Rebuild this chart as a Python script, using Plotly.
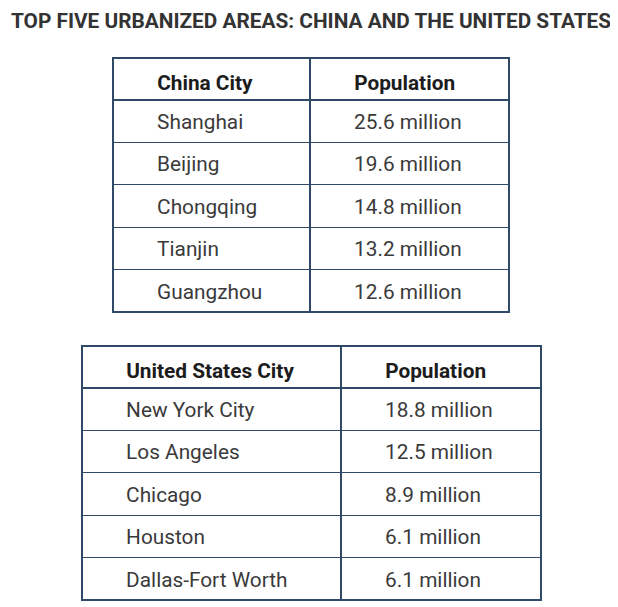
import plotly.graph_objects as go

title_text = "TOP FIVE URBANIZED AREAS: CHINA AND THE UNITED STATES"

china_header = ["China City", "Population"]
china_cities = ["Shanghai", "Beijing", "Chongqing", "Tianjin", "Guangzhou"]
china_pop = ["25.6 million", "19.6 million", "14.8 million", "13.2 million", "12.6 million"]

us_header = ["United States City", "Population"]
us_cities = ["New York City", "Los Angeles", "Chicago", "Houston", "Dallas-Fort Worth"]
us_pop = ["18.8 million", "12.5 million", "8.9 million", "6.1 million", "6.1 million"]

# the page body has an 8px margin, so the figure fills 610x599 of the 618x607 window
M = 8
W, H = 618 - M, 607 - M
BORDER = "#2e4a68"
FONT = "Roboto"
FS = 20.8
TEXT_DY = 5.4          # plotly puts cell text near the top; push it to the row centre
IND = "\u00a0" * 7
CLEAR = "rgba(0,0,0,0)"
HEAD_H, ROW_H = 42, 42.4


def table_pair(header, col1, col2, x0, x1, xmid, y0, y1):
    """x/y in window pixels. Returns a grid table and a text table on top of it."""
    px0, px1, py0, py1 = x0 - M, x1 - M, y0 - M, y1 - M
    dom_x = [px0 / W, px1 / W]
    widths = [xmid - x0, x1 - xmid]

    grid = go.Table(
        domain=dict(x=dom_x, y=[max(0, 1 - (py1 + 20) / H), 1 - py0 / H]),
        columnwidth=widths,
        header=dict(
            values=["" for _ in header],
            height=HEAD_H,
            fill_color="white",
            line=dict(color=BORDER, width=1.1),
        ),
        cells=dict(
            values=[["" for _ in col1], ["" for _ in col2]],
            height=ROW_H,
            fill_color="white",
            line=dict(color=BORDER, width=1.1),
        ),
    )
    text = go.Table(
        domain=dict(x=dom_x, y=[max(0, 1 - (py1 + 20) / H), 1 - (py0 + TEXT_DY) / H]),
        columnwidth=widths,
        header=dict(
            values=[IND + "<b>" + h + "</b>" for h in header],
            align="left",
            height=HEAD_H,
            fill_color=CLEAR,
            line=dict(color=CLEAR, width=0),
            font=dict(family=FONT, size=FS, color="#1c1c1c"),
        ),
        cells=dict(
            values=[[IND + s for s in col1], [IND + s for s in col2]],
            align="left",
            height=ROW_H,
            fill_color=CLEAR,
            line=dict(color=CLEAR, width=0),
            font=dict(family=FONT, size=FS, color="#3a3a3a"),
        ),
    )
    return [grid, text]


fig = go.Figure()
for tr in table_pair(china_header, china_cities, china_pop, 113, 509, 310, 58, 312):
    fig.add_trace(tr)
for tr in table_pair(us_header, us_cities, us_pop, 82, 541, 341, 346, 601):
    fig.add_trace(tr)

fig.update_layout(
    width=W,
    height=H,
    margin=dict(l=0, r=0, t=0, b=0),
    paper_bgcolor="white",
    plot_bgcolor="white",
    annotations=[
        dict(
            text="<b>" + title_text + "</b>",
            xref="paper",
            yref="paper",
            x=(311 - M) / W,
            y=1 - (21 - M) / H,
            xanchor="center",
            yanchor="middle",
            showarrow=False,
            font=dict(family=FONT, size=20.8, color="#333333"),
        )
    ],
)

fig.write_html("out.html")
